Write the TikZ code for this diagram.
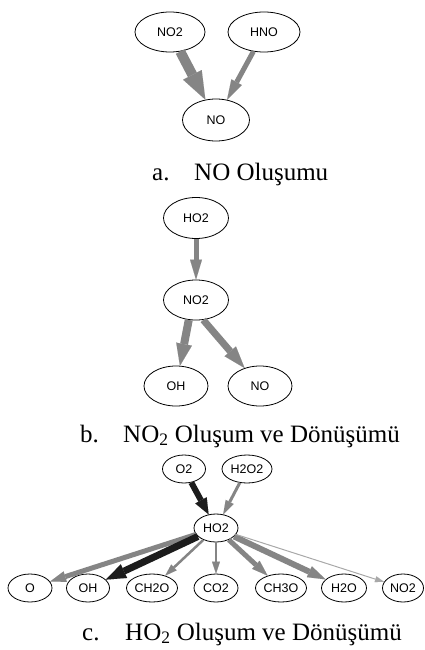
\documentclass[tikz,border=0pt]{standalone}
\usepackage{fontspec}
\setmainfont{Liberation Serif}
\newfontfamily\nodefont{Liberation Sans}
\usetikzlibrary{shapes.geometric,arrows.meta}
\definecolor{eg}{HTML}{858585}
\definecolor{ek}{HTML}{1C1C1C}
\definecolor{el}{HTML}{A8A8A8}
\tikzset{
  species/.style={draw=black, line width=0.8pt, ellipse, inner sep=0pt, font=\nodefont\fontsize{12.5}{12.5}\selectfont},
  sa/.style={species, minimum width=70pt, minimum height=40pt},
  sb/.style={species, minimum width=65pt, minimum height=40pt},
  sc/.style={species, minimum height=28pt},
  flow/.style n args={4}{draw=#1, line width=#2, -{Triangle[length=#3, width=#4, line width=0.01pt]}},
  caption/.style={anchor=base west, inner sep=0pt, font=\fontsize{25}{30}\selectfont}
}
\begin{document}
\begin{tikzpicture}[x=1pt, y=-1pt]
\useasboundingbox (0,0) rectangle (424,650);
% panel a
\node[sa] (ano2) at (170,32) {NO2};
\node[sa, minimum width=72pt] (ahno) at (264,32) {HNO};
\node[sa, minimum width=67pt, minimum height=42pt] (ano) at (216,120) {NO};
\draw[flow={eg}{10pt}{28pt}{21pt}] (ano2) -- (ano);
\draw[flow={eg}{5pt}{20pt}{12pt}] (ahno) -- (ano);
\node[caption] (capa1) at (152,180) {a.};
\node[caption] (capa2) at (194,180) {NO Oluşumu};
% panel b
\node[sb, minimum height=41pt] (bho2) at (196,218) {HO2};
\node[sb] (bno2) at (196,300) {NO2};
\node[sb, minimum width=64pt, minimum height=40pt] (boh) at (176,386) {OH};
\node[sb, minimum width=64pt, minimum height=40pt] (bno) at (260,386) {NO};
\draw[flow={eg}{5pt}{20pt}{12pt}] (bho2) -- (bno2);
\draw[flow={eg}{8pt}{22pt}{16pt}] (bno2.250) -- (boh);
\draw[flow={eg}{7pt}{22pt}{15pt}] (bno2.290) -- (bno);
\node[caption] (capb1) at (80,442) {b.};
\node[caption] (capb2) at (123,442) {NO\textsubscript{2} Oluşum ve Dönüşümü};
% panel c
\node[sc, minimum width=43pt] (co2) at (184,469) {O2};
\node[sc, minimum width=50pt] (ch2o2) at (247,469) {H2O2};
\node[sc, minimum width=44pt] (cho2) at (216,528) {HO2};
\node[sc, minimum width=44pt] (co) at (30,588) {O};
\node[sc, minimum width=43pt] (coh) at (88,588) {OH};
\node[sc, minimum width=51pt] (cch2o) at (152,588) {CH2O};
\node[sc, minimum width=44pt] (cco2) at (216,588) {CO2};
\node[sc, minimum width=51pt] (cch3o) at (281,588) {CH3O};
\node[sc, minimum width=45pt] (ch2o) at (344,588) {H2O};
\node[sc, minimum width=41pt] (cno2) at (403,588) {NO2};
\draw[flow={ek}{6pt}{16pt}{13pt}] (co2) -- (cho2);
\draw[flow={eg}{3pt}{14pt}{9pt}] (ch2o2) -- (cho2);
\draw[flow={eg}{5pt}{16pt}{11pt}] (cho2) -- (co);
\draw[flow={ek}{7pt}{20pt}{15pt}] (cho2) -- (coh);
\draw[flow={eg}{2.5pt}{12pt}{8pt}] (cho2) -- (cch2o);
\draw[flow={eg}{2.5pt}{12pt}{8pt}] (cho2) -- (cco2);
\draw[flow={eg}{5pt}{16pt}{11pt}] (cho2) -- (cch3o);
\draw[flow={eg}{6pt}{18pt}{12pt}] (cho2) -- (ch2o);
\draw[flow={el}{1pt}{9pt}{6pt}] (cho2) -- (cno2);
\node[caption] (capc1) at (82,640) {c.};
\node[caption] (capc2) at (125,640) {HO\textsubscript{2} Oluşum ve Dönüşümü};
\end{tikzpicture}
\end{document}
